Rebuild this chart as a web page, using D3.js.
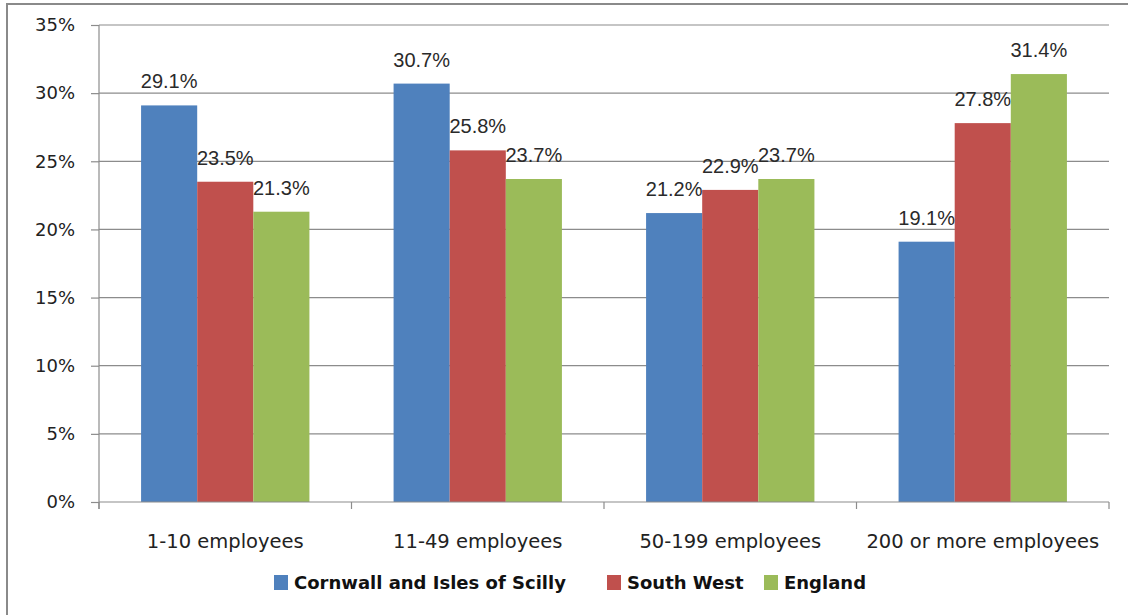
<!DOCTYPE html>
<html><head><meta charset="utf-8">
<script src="https://cdn.jsdelivr.net/npm/d3@7"></script>
<style>body{margin:0;background:#fff}svg{display:block}</style>
</head><body>
<script>
const categories = ["1-10 employees", "11-49 employees", "50-199 employees", "200 or more employees"];
const seriesNames = ["Cornwall and Isles of Scilly", "South West", "England"];
const cornwall = [29.1, 30.7, 21.2, 19.1];
const southWest = [23.5, 25.8, 22.9, 27.8];
const england = [21.3, 23.7, 23.7, 31.4];
const yTicks = [0, 5, 10, 15, 20, 25, 30, 35];
const colors = ["#4F81BD", "#C0504D", "#9BBB59"];

(function () {
const seriesValues = [cornwall, southWest, england];
const W = 1128, H = 615;
const svg = d3.select("body").append("svg").attr("width", W).attr("height", H);

// outer border
svg.append("rect").attr("x", 7).attr("y", 4).attr("width", W + 20).attr("height", H + 20)
  .attr("fill", "none").attr("stroke", "#8a8a8a").attr("stroke-width", 2);

const pLeft = 99, pRight = 1109, pTop = 25, pBottom = 502;
const x0 = d3.scaleBand().domain(categories).range([pLeft, pRight]).paddingInner(0).paddingOuter(0);
const x1 = d3.scaleBand().domain(seriesNames).range([0, x0.bandwidth()]).paddingInner(0).paddingOuter(0.75);
const y = d3.scaleLinear().domain([0, 35]).range([pBottom, pTop]);

// gridlines
svg.append("g").selectAll("line").data(yTicks.filter(t => t > 0)).join("line")
  .attr("x1", pLeft).attr("x2", pRight).attr("y1", d => y(d)).attr("y2", d => y(d))
  .attr("stroke", "#8c8c8c").attr("stroke-width", 1.2);

// y axis
const yAxis = d3.axisLeft(y).tickValues(yTicks).tickSize(8).tickPadding(16).tickFormat(d => d + "%");
const gy = svg.append("g").attr("transform", `translate(${pLeft},0)`).call(yAxis);
gy.select(".domain").attr("stroke", "#8c8c8c").attr("stroke-width", 1.2).attr("d", `M0,${pTop}V${pBottom + 7}`);
gy.selectAll(".tick line").attr("stroke", "#8c8c8c").attr("stroke-width", 1.2);
gy.selectAll(".tick text").attr("font-family", "DejaVu Sans").attr("font-size", 18).attr("fill", "#222");

// bars
const groups = svg.append("g").selectAll("g").data(categories).join("g")
  .attr("transform", d => `translate(${x0(d)},0)`);
groups.each(function(cat, ci) {
  const g = d3.select(this);
  const rows = seriesNames.map((s, si) => ({s, si, v: seriesValues[si][ci]}));
  g.selectAll("rect").data(rows).join("rect")
    .attr("x", d => x1(d.s)).attr("width", x1.bandwidth())
    .attr("y", d => y(d.v)).attr("height", d => y(0) - y(d.v))
    .attr("fill", d => colors[d.si]);
  g.selectAll("text").data(rows).join("text")
    .attr("x", d => x1(d.s) + x1.bandwidth() / 2).attr("y", d => y(d.v) - 17)
    .attr("text-anchor", "middle").attr("font-family", "Liberation Sans").attr("font-size", 20)
    .attr("fill", "#2a2a2a").text(d => d.v.toFixed(1) + "%");
});

// x axis
svg.append("line").attr("x1", pLeft).attr("x2", pRight).attr("y1", pBottom).attr("y2", pBottom)
  .attr("stroke", "#8c8c8c").attr("stroke-width", 1.2);
const bounds = categories.map(c => x0(c)).concat([pRight]);
svg.append("g").selectAll("line").data(bounds).join("line")
  .attr("x1", d => d).attr("x2", d => d).attr("y1", pBottom).attr("y2", pBottom + 7)
  .attr("stroke", "#8c8c8c").attr("stroke-width", 1.2);
svg.append("g").selectAll("text").data(categories).join("text")
  .attr("x", d => x0(d) + x0.bandwidth() / 2).attr("y", 548)
  .attr("text-anchor", "middle").attr("font-family", "DejaVu Sans").attr("font-size", 19.5)
  .attr("fill", "#222").text(d => d);

// legend
const legendX = [274, 607, 764];
const lg = svg.append("g").selectAll("g").data(seriesNames).join("g")
  .attr("transform", (d, i) => `translate(${legendX[i]},0)`);
lg.append("rect").attr("x", 0).attr("y", 575).attr("width", 14).attr("height", 15)
  .attr("fill", (d, i) => colors[i]);
lg.append("text").attr("x", 20).attr("y", 589).attr("font-family", "DejaVu Sans")
  .attr("font-weight", "bold").attr("font-size", 18).attr("fill", "#111").text(d => d);
})();
</script>
</body></html>
